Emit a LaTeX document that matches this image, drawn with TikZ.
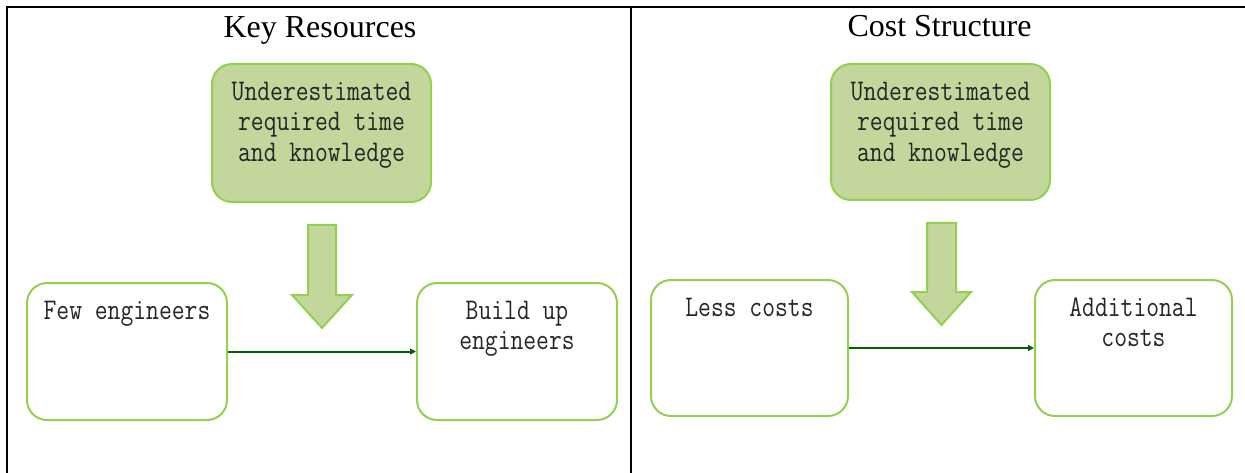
\documentclass[tikz,border=0pt]{standalone}
\usepackage{fontspec}
\setmainfont{Liberation Serif}
\newfontfamily\boxfont[FakeStretch=0.83]{Latin Modern Mono}
\usetikzlibrary{arrows.meta, positioning}

\definecolor{leafgreen}{HTML}{92D050}
\definecolor{paleolive}{HTML}{C3D69B}
\definecolor{darkgreen}{HTML}{006100}

\tikzset{
  causebox/.style={draw=leafgreen, line width=2pt, fill=paleolive, rounded corners=20pt,
    minimum width=219pt, minimum height=138pt, inner sep=0pt},
  statebox/.style={draw=leafgreen, line width=2pt, fill=white, rounded corners=20pt,
    minimum width=200pt, minimum height=137pt, inner sep=0pt},
  boxtext/.style={font=\boxfont\fontsize{30}{30.5}\selectfont, text=black!85, align=center,
    anchor=north, inner sep=0pt, yshift=-18.5pt},
  paneltitle/.style={font=\fontsize{32}{36}\selectfont, anchor=base, inner sep=0pt},
  changearrow/.style={-{Triangle[length=6pt,width=6pt]}, draw=darkgreen, line width=2pt},
  blockarrow/.style={draw=leafgreen, line width=2pt, fill=paleolive, line join=miter},
  frame/.style={line width=2pt}
}

\begin{document}
\begin{tikzpicture}[x=1pt, y=-1pt]
    \useasboundingbox (0,0) rectangle (1245,473);

    % Table frame
    \draw[frame] (7,473) -- (7,7.5) -- (1245,7.5);
    \draw[frame] (631,7.5) -- (631,473);

    % Key resources
    \node[paneltitle] (krtitle) at (320,38) {Key Resources};
    \node[causebox, label={[boxtext]north:{Underestimated\\required time\\and knowledge}}] (krcause) at (321.5,133) {};
    \draw[blockarrow] (308,225) -- (308,295) -- (292,295) -- (322,328) -- (352,295) -- (336,295) -- (336,225) -- cycle;
    \node[statebox, label={[boxtext]north:Few engineers}] (few) at (127,351.5) {};
    \node[statebox, label={[boxtext]north:{Build up\\engineers}}] (buildup) at (517,351.5) {};
    \draw[changearrow] (few.east) -- (buildup.west);

    % Cost structure
    \node[paneltitle] (cstitle) at (939.5,37) {Cost Structure};
    \node[causebox, minimum height=136pt, label={[boxtext]north:{Underestimated\\required time\\and knowledge}}] (cscause) at (940.5,132) {};
    \draw[blockarrow] (927,223) -- (927,292) -- (912,292) -- (941.5,325) -- (971,292) -- (956,292) -- (956,223) -- cycle;
    \node[statebox, minimum width=197pt, minimum height=136pt, label={[boxtext]north:Less costs}] (less) at (749.5,348) {};
    \node[statebox, minimum width=197pt, minimum height=136pt, label={[boxtext]north:{Additional\\costs}}] (extra) at (1133.5,348) {};
    \draw[changearrow] (less.east) -- (extra.west);
\end{tikzpicture}
\end{document}
